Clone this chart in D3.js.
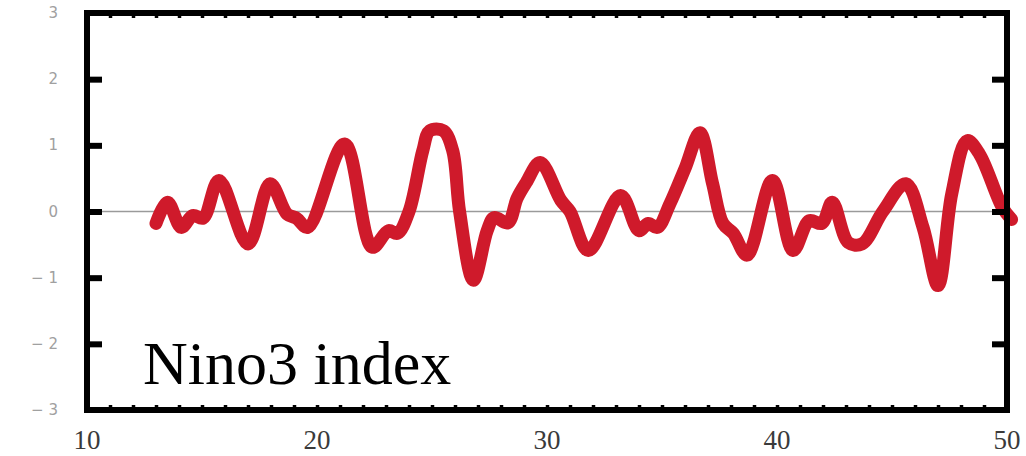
<!DOCTYPE html>
<html>
<head>
<meta charset="utf-8">
<script src="https://cdn.jsdelivr.net/npm/d3@7"></script>
<style>
  body { margin: 0; background: #fff; }
  svg { display: block; }
</style>
</head>
<body>
<div id="chart"></div>
<script>
// model year and Nino3 index values
var years = [13.0, 13.5, 14.1, 14.6, 15.05, 15.74, 17.0, 17.96, 18.7, 19.1, 19.6, 21.2, 22.4,
  23.1, 23.5, 24.0, 24.6, 24.9, 25.5, 25.9, 26.2, 26.8, 27.4, 27.7, 28.3, 28.7, 29.1, 29.7,
  30.6, 31.0, 31.8, 33.2, 34.0, 34.4, 34.8, 35.35, 36.0, 36.65, 37.2, 37.65, 38.1, 38.7,
  39.8, 40.7, 41.4, 41.95, 42.4, 43.1, 43.7, 44.6, 45.6, 46.35, 47.0, 47.6, 48.26, 48.8,
  49.8, 50.2];
var nino3 = [-0.18, 0.14, -0.24, -0.06, -0.1, 0.47, -0.49, 0.42, -0.04, -0.1, -0.24, 1.02, -0.54,
  -0.29, -0.33, 0.0, 0.92, 1.22, 1.22, 0.92, 0.0, -1.04, -0.29, -0.09, -0.17, 0.2, 0.44, 0.74,
  0.17, 0.0, -0.59, 0.24, -0.29, -0.18, -0.24, 0.12, 0.65, 1.19, 0.42, -0.18, -0.33, -0.66,
  0.47, -0.59, -0.14, -0.18, 0.14, -0.47, -0.49, 0.0, 0.42, -0.24, -1.12, 0.27, 1.07, 0.87,
  0.06, -0.12];
var xTickLabels = [10, 20, 30, 40, 50];
var yTickLabels = [-3, -2, -1, 0, 1, 2, 3];
var title = "Nino3 index";

var width = 1026, height = 456;
var plotLeft = 87, plotRight = 1007, plotTop = 13, plotBottom = 410;

var svg = d3.select("#chart").append("svg")
  .attr("width", width)
  .attr("height", height);

var x = d3.scaleLinear().domain([10, 50]).range([plotLeft, plotRight]);
var y = d3.scaleLinear().domain([-3, 3]).range([plotBottom, plotTop]);

// zero line
svg.append("line")
  .attr("x1", plotLeft).attr("x2", plotRight)
  .attr("y1", y(0)).attr("y2", y(0))
  .attr("stroke", "#9a9a9a")
  .attr("stroke-width", 1.5);

// the index curve
var data = years.map(function(d, i) { return [d, nino3[i]]; });
var line = d3.line()
  .x(function(d) { return x(d[0]); })
  .y(function(d) { return y(d[1]); })
  .curve(d3.curveCatmullRom.alpha(0.5));

svg.append("path")
  .datum(data)
  .attr("d", line)
  .attr("fill", "none")
  .attr("stroke", "#cf1a2b")
  .attr("stroke-width", 13)
  .attr("stroke-linejoin", "round")
  .attr("stroke-linecap", "round");

// minor ticks on top and bottom, every year
var minor = d3.range(10, 51);
var xBottom = d3.axisBottom(x).tickValues(minor).tickSizeInner(-5).tickSizeOuter(0)
  .tickFormat("");
var xTop = d3.axisTop(x).tickValues(minor).tickSizeInner(-5).tickSizeOuter(0)
  .tickFormat("");
var yLeft = d3.axisLeft(y).tickValues([-2, -1, 0, 1, 2]).tickSizeInner(-15).tickSizeOuter(0)
  .tickFormat("");
var yRight = d3.axisRight(y).tickValues([-2, -1, 0, 1, 2]).tickSizeInner(-15).tickSizeOuter(0)
  .tickFormat("");

function styleAxis(g, w) {
  g.select(".domain").remove();
  g.selectAll(".tick line").attr("stroke", "#000").attr("stroke-width", w);
}
svg.append("g").attr("transform", "translate(0," + plotBottom + ")").call(xBottom).call(styleAxis, 3.5);
svg.append("g").attr("transform", "translate(0," + plotTop + ")").call(xTop).call(styleAxis, 3.5);
svg.append("g").attr("transform", "translate(" + plotLeft + ",0)").call(yLeft).call(styleAxis, 6);
svg.append("g").attr("transform", "translate(" + plotRight + ",0)").call(yRight).call(styleAxis, 6);

// frame
svg.append("rect")
  .attr("x", plotLeft).attr("y", plotTop)
  .attr("width", plotRight - plotLeft).attr("height", plotBottom - plotTop)
  .attr("fill", "none")
  .attr("stroke", "#000")
  .attr("stroke-width", 6);

// x tick labels
svg.selectAll(".xlab")
  .data(xTickLabels)
  .enter().append("text")
  .attr("x", function(d) { return x(d); })
  .attr("y", 449)
  .attr("text-anchor", "middle")
  .attr("font-family", "Liberation Serif, Times New Roman, serif")
  .attr("font-size", 27)
  .attr("fill", "#3a3a3a")
  .text(function(d) { return d; });

// y tick labels, faint
svg.selectAll(".ylab")
  .data(yTickLabels)
  .enter().append("text")
  .attr("x", 58)
  .attr("y", function(d) { return y(d) + 5; })
  .attr("text-anchor", "end")
  .attr("font-family", "DejaVu Sans, sans-serif")
  .attr("font-size", 15)
  .attr("fill", "#a0a0a0")
  .text(function(d) { return d < 0 ? "\u2212 " + Math.abs(d) : d; });

// title inside the plot
svg.append("text")
  .attr("x", 143)
  .attr("y", 384)
  .attr("font-family", "Liberation Serif, Times New Roman, serif")
  .attr("font-size", 62)
  .attr("fill", "#000")
  .text(title);
</script>
</body>
</html>
